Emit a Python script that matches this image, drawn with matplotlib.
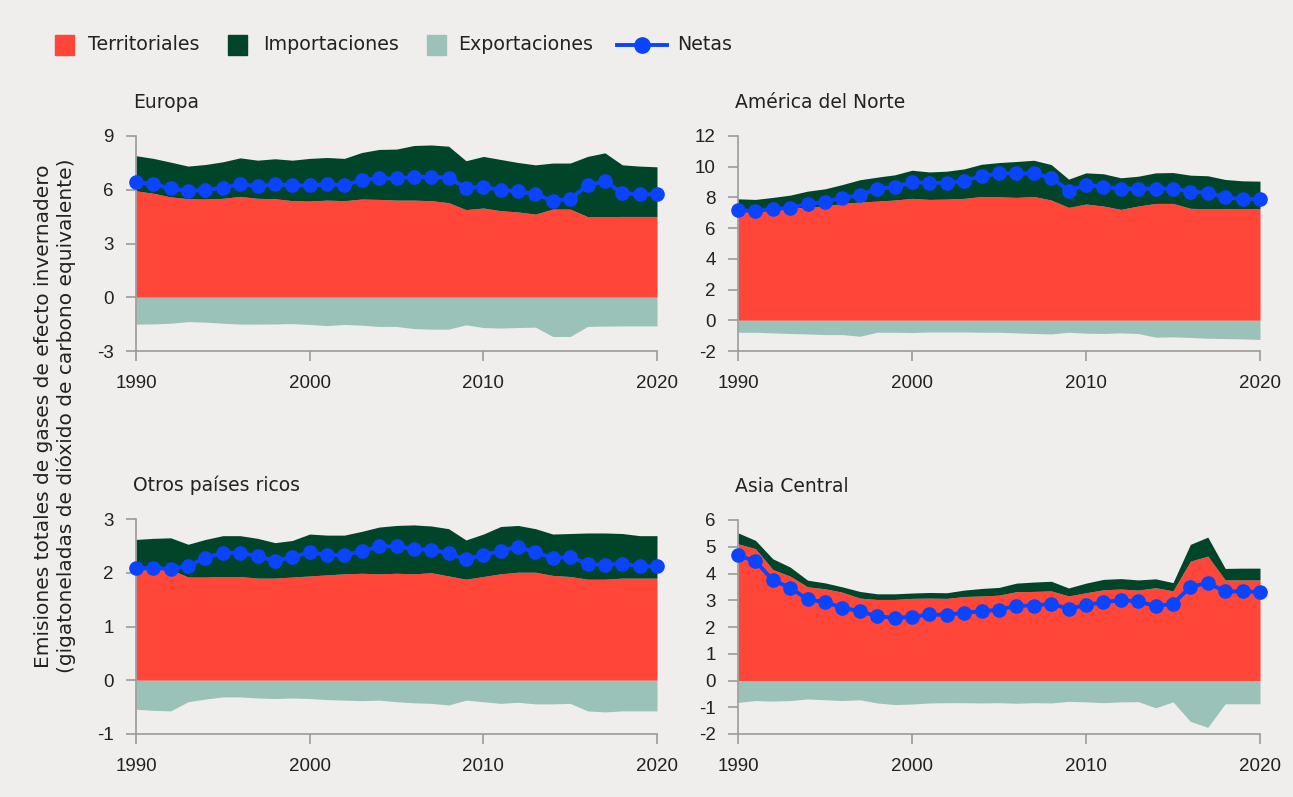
import numpy as np
import matplotlib.pyplot as plt
from matplotlib.patches import Rectangle
from matplotlib.lines import Line2D

anios = list(range(1990, 2021))

regiones = ['Europa', 'América del Norte', 'Otros países ricos', 'Asia Central']

# Europa
eu_terr = [5.94, 5.80, 5.60, 5.50, 5.48, 5.52, 5.63, 5.52, 5.50, 5.39, 5.37, 5.42, 5.39, 5.48, 5.46, 5.42,
           5.42, 5.39, 5.28, 4.89, 4.98, 4.83, 4.76, 4.64, 4.92, 4.92, 4.50, 4.50, 4.51, 4.51, 4.51]
eu_imp = [1.96, 1.95, 1.94, 1.82, 1.93, 2.04, 2.15, 2.13, 2.23, 2.26, 2.38, 2.38, 2.36, 2.60, 2.79, 2.85,
          3.05, 3.11, 3.15, 2.73, 2.88, 2.86, 2.76, 2.75, 2.57, 2.57, 3.36, 3.56, 2.88, 2.81, 2.77]
eu_exp = [-1.50, -1.49, -1.45, -1.36, -1.39, -1.45, -1.50, -1.50, -1.49, -1.47, -1.52, -1.58, -1.52, -1.56,
          -1.63, -1.63, -1.75, -1.78, -1.78, -1.54, -1.69, -1.72, -1.69, -1.67, -2.19, -2.19, -1.63, -1.61,
          -1.60, -1.60, -1.60]
eu_net = [6.43, 6.32, 6.07, 5.94, 5.98, 6.11, 6.32, 6.20, 6.30, 6.24, 6.24, 6.30, 6.26, 6.54, 6.63, 6.63,
          6.72, 6.72, 6.67, 6.11, 6.15, 6.00, 5.91, 5.76, 5.37, 5.50, 6.24, 6.48, 5.81, 5.74, 5.74]

# América del Norte
na_terr = [7.18, 7.14, 7.22, 7.30, 7.37, 7.44, 7.61, 7.70, 7.76, 7.83, 7.94, 7.87, 7.89, 7.94, 8.06, 8.04,
           8.00, 8.06, 7.83, 7.35, 7.57, 7.44, 7.22, 7.44, 7.61, 7.61, 7.29, 7.26, 7.26, 7.26, 7.26]
na_imp = [0.73, 0.73, 0.78, 0.85, 1.04, 1.12, 1.23, 1.45, 1.56, 1.64, 1.83, 1.79, 1.82, 1.92, 2.10, 2.23,
          2.34, 2.36, 2.31, 1.84, 2.03, 2.10, 2.06, 1.94, 1.99, 2.01, 2.16, 2.15, 1.91, 1.82, 1.80]
na_exp = [-0.78, -0.78, -0.82, -0.86, -0.89, -0.93, -0.93, -1.04, -0.78, -0.78, -0.80, -0.76, -0.76, -0.76,
          -0.78, -0.78, -0.82, -0.86, -0.89, -0.78, -0.84, -0.86, -0.82, -0.86, -1.10, -1.08, -1.12, -1.17,
          -1.19, -1.21, -1.25]
na_net = [7.18, 7.11, 7.24, 7.33, 7.57, 7.70, 7.98, 8.15, 8.56, 8.67, 9.00, 8.95, 8.95, 9.08, 9.38, 9.56,
          9.56, 9.56, 9.28, 8.45, 8.80, 8.71, 8.54, 8.58, 8.58, 8.58, 8.37, 8.32, 8.00, 7.89, 7.89]

# Otros países ricos
or_terr = [2.04, 2.06, 2.06, 1.92, 1.92, 1.93, 1.93, 1.90, 1.90, 1.92, 1.94, 1.96, 1.98, 1.99, 1.98, 1.99,
           1.98, 2.00, 1.94, 1.88, 1.93, 1.98, 2.01, 2.01, 1.95, 1.93, 1.88, 1.88, 1.90, 1.90, 1.90]
or_imp = [0.58, 0.58, 0.59, 0.61, 0.70, 0.76, 0.76, 0.74, 0.66, 0.68, 0.78, 0.74, 0.72, 0.78, 0.87, 0.89,
          0.91, 0.87, 0.88, 0.73, 0.79, 0.88, 0.87, 0.81, 0.77, 0.80, 0.86, 0.86, 0.83, 0.79, 0.79]
or_exp = [-0.54, -0.56, -0.57, -0.40, -0.35, -0.31, -0.31, -0.33, -0.34, -0.33, -0.34, -0.36, -0.37, -0.38,
          -0.37, -0.40, -0.42, -0.43, -0.46, -0.37, -0.40, -0.43, -0.41, -0.44, -0.44, -0.43, -0.57, -0.59,
          -0.57, -0.57, -0.57]
or_net = [2.09, 2.09, 2.07, 2.12, 2.28, 2.37, 2.37, 2.31, 2.22, 2.29, 2.38, 2.33, 2.33, 2.40, 2.49, 2.49,
          2.44, 2.43, 2.36, 2.25, 2.33, 2.41, 2.48, 2.38, 2.27, 2.30, 2.16, 2.15, 2.17, 2.12, 2.12]

# Asia Central
ac_terr = [5.11, 4.93, 4.15, 3.90, 3.50, 3.43, 3.30, 3.08, 3.03, 3.03, 3.07, 3.08, 3.07, 3.14, 3.16, 3.19,
           3.32, 3.33, 3.35, 3.16, 3.28, 3.39, 3.42, 3.38, 3.47, 3.35, 4.46, 4.65, 3.76, 3.76, 3.76]
ac_imp = [0.41, 0.31, 0.40, 0.34, 0.25, 0.22, 0.20, 0.25, 0.21, 0.21, 0.20, 0.21, 0.21, 0.24, 0.28, 0.29,
          0.32, 0.35, 0.36, 0.30, 0.36, 0.39, 0.39, 0.38, 0.33, 0.31, 0.63, 0.71, 0.43, 0.44, 0.44]
ac_exp = [-0.82, -0.75, -0.77, -0.75, -0.69, -0.72, -0.75, -0.72, -0.84, -0.90, -0.88, -0.84, -0.83, -0.83,
          -0.84, -0.83, -0.85, -0.83, -0.84, -0.78, -0.80, -0.83, -0.80, -0.79, -1.02, -0.80, -1.53, -1.75,
          -0.87, -0.87, -0.87]
ac_net = [4.68, 4.46, 3.75, 3.47, 3.03, 2.93, 2.72, 2.59, 2.40, 2.34, 2.38, 2.47, 2.45, 2.54, 2.58, 2.65,
          2.79, 2.80, 2.87, 2.68, 2.82, 2.93, 3.00, 2.96, 2.78, 2.87, 3.50, 3.65, 3.33, 3.33, 3.31]

terr = [eu_terr, na_terr, or_terr, ac_terr]
imp = [eu_imp, na_imp, or_imp, ac_imp]
exp_ = [eu_exp, na_exp, or_exp, ac_exp]
net = [eu_net, na_net, or_net, ac_net]

yticks = [[-3, 0, 3, 6, 9], list(range(-2, 13, 2)), [-1, 0, 1, 2, 3], list(range(-2, 7))]
xticks = [1990, 2000, 2010, 2020]

c_fondo = '#efeeec'
c_terr = '#ff4638'
c_imp = '#00452a'
c_exp = '#9bc2b9'
c_net = '#0a44ff'
c_eje = '#9a9a9a'
c_texto = '#222222'

plt.rcParams['font.family'] = ['DejaVu Sans']
plt.rcParams['axes.unicode_minus'] = False  # guion simple en "-3"
tick_font = ['Liberation Sans Narrow', 'Liberation Sans', 'DejaVu Sans']

fig = plt.figure(figsize=(12.93, 7.97), dpi=100, facecolor=c_fondo)

W, H = 1293, 797
# posiciones de los paneles en pixeles: (izq, der, arriba, abajo)
cajas = [(136, 657, 136, 351), (738, 1260, 136, 351),
         (136, 657, 519, 734), (738, 1260, 520, 734)]

for i in range(4):
    x0, x1, y0, y1 = cajas[i]
    ax = fig.add_axes([x0 / W, 1 - y1 / H, (x1 - x0) / W, (y1 - y0) / H])
    ax.set_facecolor(c_fondo)
    t = np.array(terr[i])
    m = np.array(imp[i])
    e = np.array(exp_[i])
    ax.fill_between(anios, 0, t, color=c_terr, lw=0)
    ax.fill_between(anios, t, t + m, color=c_imp, lw=0)
    ax.fill_between(anios, e, 0, color=c_exp, lw=0)
    ax.plot(anios, net[i], color=c_net, lw=2.8, marker='o', ms=9.5, clip_on=False, zorder=5)

    ax.set_xlim(1990, 2020)
    ax.set_ylim(yticks[i][0], yticks[i][-1])
    ax.set_xticks(xticks)
    ax.set_yticks(yticks[i])
    for s in ['top', 'right']:
        ax.spines[s].set_visible(False)
    for s in ['left', 'bottom']:
        ax.spines[s].set_color(c_eje)
        ax.spines[s].set_linewidth(1.2)
    ax.tick_params(colors=c_eje, width=1.2, labelcolor=c_texto, labelsize=13.5)
    ax.tick_params(axis='x', length=7.5, pad=10)
    ax.tick_params(axis='y', length=7, pad=9)
    for lab in ax.get_xticklabels() + ax.get_yticklabels():
        lab.set_family(tick_font)
    fig.text((x0 - 3) / W, 1 - (y0 - 34) / H, regiones[i], fontsize=13.5, color=c_texto,
             va='center', ha='left')

# leyenda dibujada a mano (pixeles de la figura)
etiquetas = ['Territoriales', 'Importaciones', 'Exportaciones', 'Netas']
colores = [c_terr, c_imp, c_exp]
x_caja = [55, 228, 427]
x_texto = [88, 263, 458, 677]
ley_y = 45
for k in range(3):
    fig.add_artist(Rectangle((x_caja[k] / W, 1 - 55 / H), 19 / W, 20 / H, color=colores[k],
                             transform=fig.transFigure))
fig.add_artist(Line2D([617 / W, 667 / W], [1 - ley_y / H, 1 - ley_y / H], color=c_net, lw=2.8,
                      transform=fig.transFigure))
fig.add_artist(Line2D([642 / W], [1 - ley_y / H], color=c_net, marker='o', ms=11,
                      transform=fig.transFigure))
for k in range(4):
    fig.text(x_texto[k] / W, 1 - ley_y / H, etiquetas[k], fontsize=13.7, color=c_texto,
             va='center', ha='left')

fig.text(55 / W, 1 - 416 / H, 'Emisiones totales de gases de efecto invernadero\n'
         '(gigatoneladas de dióxido de carbono equivalente)', rotation=90, ha='center',
         va='center', fontsize=14.5, color=c_texto, linespacing=1.2)

plt.savefig('out.png', dpi=100, facecolor=c_fondo)
